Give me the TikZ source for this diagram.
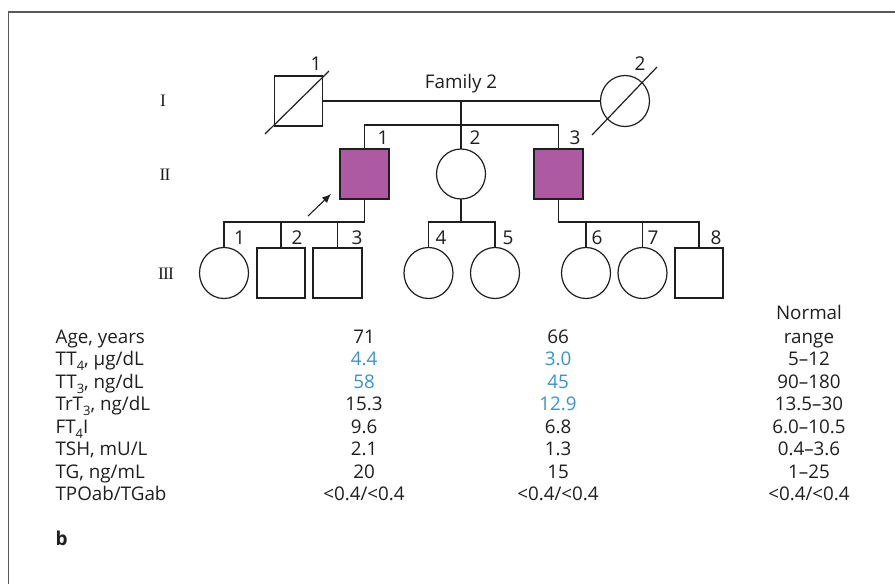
\documentclass[tikz,border=0pt]{standalone}
\usepackage{fontspec}
\newfontfamily\osans{Open Sans}
\newfontfamily\lserif{Liberation Serif}
\usetikzlibrary{shapes.geometric,arrows.meta}
\definecolor{purp}{HTML}{AE5AA2}
\definecolor{blu}{HTML}{3A93D1}
\definecolor{ink}{HTML}{1F1F1F}
\definecolor{frm}{HTML}{5A5A5A}
\newcommand{\sbs}[1]{\raisebox{-0.28em}{\fontsize{13}{13}\selectfont #1}}
\begin{document}
\begin{tikzpicture}[x=1pt,y=-1pt,
 line width=1.2pt, color=ink,
 male/.style={draw=ink, rectangle, minimum width=48pt, minimum height=50pt, inner sep=0pt, outer sep=0pt},
 female/.style={draw=ink, ellipse, minimum width=49pt, minimum height=51pt, inner sep=0pt, outer sep=0pt},
 aff/.style={fill=purp},
 num/.style={font=\osans\fontsize{19}{21}\selectfont, text=ink, inner sep=0pt},
 gen/.style={font=\lserif\fontsize{17.5}{20}\selectfont, text=ink, inner sep=0pt},
 tbl/.style={font=\osans\fontsize{18.8}{21}\selectfont, text=ink, inner sep=0pt, anchor=base},
 lbl/.style={tbl, anchor=base west},
 lo/.style={text=blu}]
\useasboundingbox (0,0) rectangle (895,584);
\fill[white] (0,0) rectangle (895,584);
% frame
\draw[frm, line width=1.5pt] (8.5,584) -- (8.5,12) -- (895,12);

% generation labels
\node[gen] (gI) at (163,101) {I};
\node[gen] (gII) at (165,175) {I\kern-0.8pt I};
\node[gen] (gIII) at (166,274) {I\kern-0.8pt I\kern-0.8pt I};

% generation I
\node[male] (I1) at (298.5,101) {};
\node[female] (I2) at (625,101) {};
\draw (I1.center) ++(-33.5,33) -- ++(64,-63);
\draw (I2.center) ++(-33,34) -- ++(65,-68);
\node[num] (lI1) at (316,64) {1};
\node[num] (lI2) at (640,64) {2};
\node[tbl] (fam) at (461,88) {Family 2};
\draw (I1.east) -- (I2.west);
\coordinate (m1) at (461,101);
\coordinate (s1) at (461,125);

% generation II
\node[male, aff, minimum width=49pt] (II1) at (364.5,174) {};
\node[female, minimum height=50pt] (II2) at (461,174) {};
\node[male, aff, minimum width=49pt] (II3) at (558.5,174) {};
\draw (m1) -- (II2.north);
\draw (II1.north) -- (II1.north |- s1) -- (II3.north |- s1) -- (II3.north);
\node[num] (lII1) at (383,138) {1};
\node[num] (lII2) at (475,138) {2};
\node[num] (lII3) at (575,138) {3};
\coordinate (arrS) at (308,216);
\coordinate (arrE) at (331,194);
\draw[-{Latex[length=9pt,width=7.5pt]}, line width=1.1pt] (arrS) -- (arrE);

% generation III
\node[female] (III1) at (224,273) {};
\node[male] (III2) at (281,273) {};
\node[male, minimum width=49pt] (III3) at (337.5,273) {};
\node[female] (III4) at (428.5,273) {};
\node[female] (III5) at (495,273) {};
\node[female] (III6) at (586,273) {};
\node[female] (III7) at (642.5,273) {};
\node[male] (III8) at (699,273) {};
\coordinate (s2) at (364.5,222);
\draw (II1.south) -- (II1.south |- s2) -- (III1.north |- s2) -- (III1.north);
\draw (III2.north |- s2) -- (III2.north);
\draw (III3.north |- s2) -- (III3.north);
\draw (II2.south) -- (II2.south |- s2);
\draw (III4.north) -- (III4.north |- s2) -- (III5.north |- s2) -- (III5.north);
\draw (II3.south) -- (II3.south |- s2) -- (III8.north |- s2) -- (III8.north);
\draw (III6.north |- s2) -- (III6.north);
\draw (III7.north |- s2) -- (III7.north);
\node[num] (lIII1) at (239.5,238) {1};
\node[num] (lIII2) at (297,238) {2};
\node[num] (lIII3) at (357,238) {3};
\node[num] (lIII4) at (441,238) {4};
\node[num] (lIII5) at (508,238) {5};
\node[num] (lIII6) at (597,238) {6};
\node[num] (lIII7) at (653,238) {7};
\node[num] (lIII8) at (716,238) {8};

% table
\node[tbl] (hN) at (809,319.5) {Normal};
\node[lbl] (r1) at (55,343) {Age, years};
\node[lbl] (r2) at (55,365.5) {TT\sbs{4}, μg/dL};
\node[lbl] (r3) at (55,388) {TT\sbs{3}, ng/dL};
\node[lbl] (r4) at (55,410.5) {TrT\sbs{3}, ng/dL};
\node[lbl] (r5) at (55,433) {FT\sbs{4}I};
\node[lbl] (r6) at (55,455.5) {TSH, mU/L};
\node[lbl] (r7) at (55,478) {TG, ng/mL};
\node[lbl] (r8) at (55,500.5) {TPOab/TGab};

\node[tbl] (a1) at (364,343) {71};
\node[tbl, lo] (a2) at (364,365.5) {4.4};
\node[tbl, lo] (a3) at (364,388) {58};
\node[tbl] (a4) at (364,410.5) {15.3};
\node[tbl] (a5) at (364,433) {9.6};
\node[tbl] (a6) at (364,455.5) {2.1};
\node[tbl] (a7) at (364,478) {20};
\node[tbl] (a8) at (364,500.5) {<0.4/<0.4};

\node[tbl] (b1) at (558,343) {66};
\node[tbl, lo] (b2) at (558,365.5) {3.0};
\node[tbl, lo] (b3) at (558,388) {45};
\node[tbl, lo] (b4) at (558,410.5) {12.9};
\node[tbl] (b5) at (558,433) {6.8};
\node[tbl] (b6) at (558,455.5) {1.3};
\node[tbl] (b7) at (558,478) {15};
\node[tbl] (b8) at (558,500.5) {<0.4/<0.4};

\node[tbl] (c1) at (809,343) {range};
\node[tbl] (c2) at (809,365.5) {5–12};
\node[tbl] (c3) at (809,388) {90–180};
\node[tbl] (c4) at (809,410.5) {13.5–30};
\node[tbl] (c5) at (809,433) {6.0–10.5};
\node[tbl] (c6) at (809,455.5) {0.4–3.6};
\node[tbl] (c7) at (809,478) {1–25};
\node[tbl] (c8) at (809,500.5) {<0.4/<0.4};

\node[lbl, font=\osans\bfseries\fontsize{19}{21}\selectfont] (pb) at (55,545) {b};
\end{tikzpicture}
\end{document}
